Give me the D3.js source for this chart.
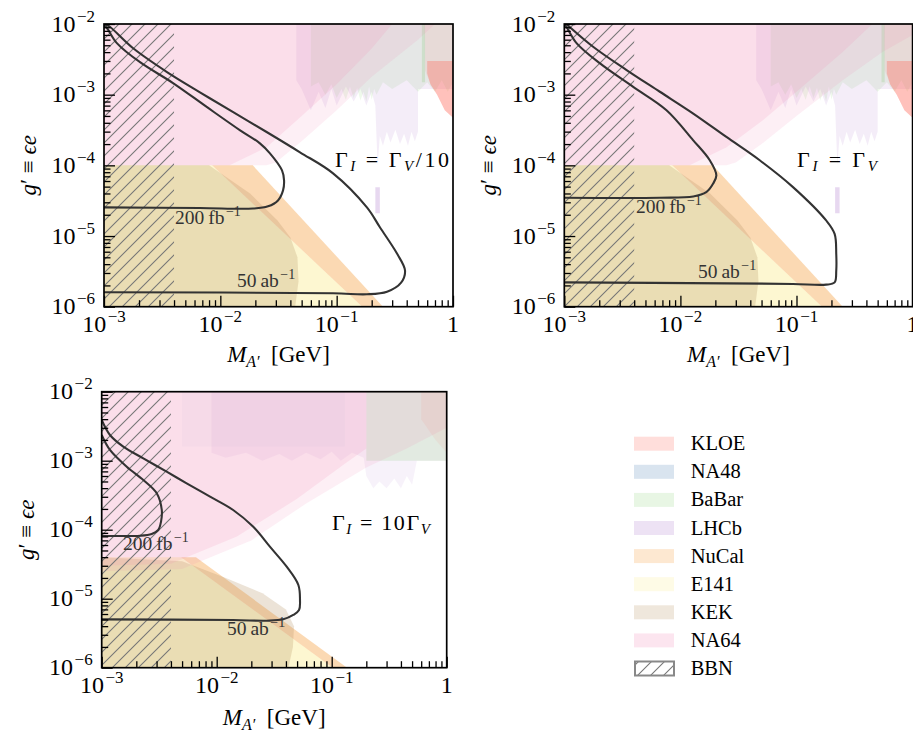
<!DOCTYPE html>
<html><head><meta charset="utf-8">
<script src="https://cdn.jsdelivr.net/npm/d3@7"></script>
<style>
body{margin:0;background:#fff}
svg{display:block}
text{font-family:"Liberation Serif","DejaVu Serif",serif;fill:#000}
</style></head>
<body><svg id="chart" width="913" height="732"></svg>
<script>
// ---------------- DATA ----------------
const massDomain = [1e-3, 1];
const couplingDomain = [1e-6, 1e-2];
const xMajorTicks = [1e-3, 1e-2, 1e-1, 1];
const yMajorTicks = [1e-6, 1e-5, 1e-4, 1e-3, 1e-2];
const xTickLabels = [["10","−3"],["10","−2"],["10","−1"],["1",""]];
const yTickLabels = [["10","−6"],["10","−5"],["10","−4"],["10","−3"],["10","−2"]];
const bbnMassMax = 4e-3;
const legendNames = ["KLOE","NA48","BaBar","LHCb","NuCal","E141","KEK","NA64","BBN"];
const expColors = {KLOE:"#ff6b5b",NA48:"#5082b4",BaBar:"#96d782",LHCb:"#af7dcd",NuCal:"#f5962d",E141:"#faeb8c",KEK:"#b4915f",NA64:"#f087b4"};

// sensitivity contours [mass GeV, g']
const lumi200_p1 = [[1e-3,9.68e-3],[1.06e-3,8.77e-3],[1.29e-3,5.37e-3],[2.04e-3,2.88e-3],[3.92e-3,1.46e-3],[7.69e-3,6.65e-4],[1.48e-2,3.13e-4],[2.19e-2,2.05e-4],[2.67e-2,1.48e-4],[3.39e-2,8.49e-5],[3.53e-2,6.12e-5],[3.46e-2,4.42e-5],[3.13e-2,3.19e-5],[2.57e-2,2.63e-5],[1.91e-2,2.45e-5],[6.68e-3,2.49e-5],[1e-3,2.54e-5]];
const lumi50_p1 = [[1.04e-3,9.84e-3],[1.13e-3,9.06e-3],[1.77e-3,4.57e-3],[3.48e-3,2.09e-3],[6.68e-3,1.08e-3],[1.29e-2,5.65e-4],[2.52e-2,2.94e-4],[4.84e-2,1.53e-4],[9.31e-2,7.71e-5],[0.182,2.54e-5],[0.236,1.32e-5],[0.330,5.65e-6],[0.387,3.24e-6],[0.358,2.19e-6],[0.271,1.63e-6],[0.182,1.50e-6],[0.0933,1.55e-6],[1e-3,1.60e-6]];
const lumi200_p2 = [[1e-3,9.8e-3],[1.04e-3,9.16e-3],[1.28e-3,5.32e-3],[2.03e-3,2.77e-3],[3.92e-3,1.29e-3],[7.59e-3,6.03e-4],[1.29e-2,2.26e-4],[1.79e-2,1.18e-4],[2.04e-2,7.21e-5],[1.91e-2,5.50e-5],[1.67e-2,4.18e-5],[1.29e-2,3.63e-5],[6.65e-3,3.48e-5],[1e-3,3.48e-5]];
const lumi50_p2 = [[1.04e-3,1e-2],[1.77e-3,4.76e-3],[3.44e-3,2.23e-3],[6.65e-3,1.10e-3],[1.29e-2,5.41e-4],[2.49e-2,2.52e-4],[4.82e-2,1.18e-4],[9.33e-2,4.92e-5],[0.180,1.66e-5],[0.213,1.07e-5],[0.220,5.58e-6],[0.220,3.24e-6],[0.213,2.21e-6],[0.180,2.05e-6],[0.0933,2.10e-6],[0.0249,2.14e-6],[1e-3,2.21e-6]];
const lumi200_p3 = [[1e-3,2.36e-3],[1.18e-3,1.43e-3],[1.65e-3,8.18e-4],[2.30e-3,5.25e-4],[3.01e-3,3.37e-4],[3.33e-3,1.93e-4],[3.28e-3,1.31e-4],[3.10e-3,9.91e-5],[2.72e-3,8.67e-5],[2.15e-3,8.18e-5],[1e-3,8.18e-5]];
const lumi50_p3 = [[1e-3,3.89e-3],[1.18e-3,2.36e-3],[1.54e-3,1.60e-3],[2.30e-3,1.08e-3],[3.67e-3,6.93e-4],[5.48e-3,4.70e-4],[8.75e-3,3.01e-4],[1.39e-2,1.93e-4],[2.08e-2,1.10e-4],[2.90e-2,5.68e-5],[4.06e-2,2.91e-5],[5.13e-2,1.58e-5],[5.30e-2,9.57e-6],[5.20e-2,6.85e-6],[4.63e-2,5.81e-6],[3.79e-2,5.02e-6],[2.72e-2,4.80e-6],[1.39e-2,4.91e-6],[1e-3,5.02e-6]];

// excluded regions (panels 1 and 2)
const na64A_p1 = [[1e-3,1e-2],[0.3,1e-2],[0.2,4.5e-3],[0.1,1.4e-3],[0.05,5e-4],[0.025,1.8e-4],[0.012,1e-4],[1e-3,1e-4]];
const na64B_p1 = [[1e-3,1e-2],[0.7,1e-2],[0.5,6e-3],[0.2,1.8e-3],[0.1,6e-4],[0.05,2.2e-4],[0.03,1.1e-4],[0.025,1e-4],[1e-3,1e-4]];
const na64A_p2 = [[1e-3,1e-2],[0.45,1e-2],[0.25,4e-3],[0.1,1.1e-3],[0.05,4.2e-4],[0.025,1.8e-4],[0.012,1e-4],[1e-3,1e-4]];
const na64B_p2 = [[1e-3,1e-2],[1,1e-2],[1,7e-3],[0.55,4e-3],[0.25,1.6e-3],[0.1,5e-4],[0.05,2e-4],[0.03,1.1e-4],[0.025,1e-4],[1e-3,1e-4]];
const babar_p12 = [[0.06,1e-2],[1,1e-2],[1,1.5e-3],[0.9,1.1e-3],[0.8,1.6e-3],[0.7,1.1e-3],[0.6,1.5e-3],[0.5,1.1e-3],[0.4,1.6e-3],[0.3,1.2e-3],[0.25,1.5e-3],[0.22,1.0e-3],[0.21,1.2e-3],[0.2,8.5e-4],[0.19,1.3e-3],[0.18,8e-4],[0.17,1.1e-3],[0.16,8.3e-4],[0.15,1.25e-3],[0.14,9e-4],[0.13,1.3e-3],[0.12,8.5e-4],[0.11,1.2e-3],[0.1,9e-4],[0.09,1.4e-3],[0.08,1.0e-3],[0.07,1.5e-3],[0.06,1.3e-3]];
const babarStripes_p12 = [[0.54,1e-2],[0.575,1e-2],[0.575,1.5e-3],[0.54,1.5e-3]];
const lhcb_p12 = [[0.045,1e-2],[1,1e-2],[1,1.2e-3],[0.5,1.2e-3],[0.5,3e-4],[0.47,2.2e-4],[0.44,3e-4],[0.41,1.9e-4],[0.38,2.8e-4],[0.35,2e-4],[0.32,3.2e-4],[0.29,2.1e-4],[0.27,3e-4],[0.25,1.9e-4],[0.235,2.6e-4],[0.225,1.0e-4],[0.22,2.5e-4],[0.215,7e-4],[0.2,1.1e-3],[0.18,7e-4],[0.16,1.2e-3],[0.14,8e-4],[0.12,1.3e-3],[0.1,7e-4],[0.09,1.2e-3],[0.08,6.5e-4],[0.07,1.1e-3],[0.06,6e-4],[0.05,1.2e-3],[0.045,1.6e-3]];
const lhcbDisp_p12 = [[0.215,4.9e-5],[0.235,4.9e-5],[0.235,2.1e-5],[0.215,2.1e-5]];
const kloe_p12 = [[0.57,1e-2],[1,1e-2],[1,4.7e-4],[0.85,6e-4],[0.73,1e-3],[0.64,1.4e-3],[0.575,2.2e-3]];
const kloeCore_p12 = [[0.6,3e-3],[1,3e-3],[1,4.7e-4],[0.85,6e-4],[0.73,1e-3],[0.64,1.4e-3],[0.6,2e-3]];
const nucal_p12 = [[8.5e-3,1e-4],[0.019,1e-4],[0.25,1e-6],[0.166,1e-6]];
const e141_p12 = [[1e-3,1e-4],[8.5e-3,1e-4],[0.166,1e-6],[1e-3,1e-6]];
const kek_p12 = [[1e-3,1e-4],[8e-3,1e-4],[0.018,4e-5],[0.031,1.66e-5],[0.04,9.5e-6],[0.046,5e-6],[0.047,2.3e-6],[0.044,1e-6],[1e-3,1e-6]];

// excluded regions, panel with Gamma_I = 10 Gamma_V
const na64A_p3 = [[1e-3,1e-2],[0.2,1e-2],[0.2,1.5e-3],[0.13,9e-4],[0.05,2.8e-4],[0.015,8e-5],[4e-3,3.2e-5],[1e-3,3e-5]];
const na64B_p3 = [[1e-3,1e-2],[1,1e-2],[1,3e-3],[0.45,1.5e-3],[0.2,8e-4],[0.06,2.4e-4],[0.02,7e-5],[5e-3,2.7e-5],[1e-3,2.5e-5]];
const na48_p3 = [[5e-3,1e-2],[0.13,1e-2],[0.13,1.6e-3],[5e-3,1.6e-3]];
const lhcb_p3 = [[9e-3,1e-2],[1,1e-2],[1,1e-3],[0.55,1e-3],[0.5,4.5e-4],[0.45,6e-4],[0.4,4e-4],[0.35,5.5e-4],[0.3,4e-4],[0.26,5e-4],[0.23,4e-4],[0.2,6e-4],[0.19,1.1e-3],[0.15,1.3e-3],[0.12,1.0e-3],[0.1,1.35e-3],[0.08,1.05e-3],[0.06,1.3e-3],[0.045,1.0e-3],[0.035,1.25e-3],[0.025,1.0e-3],[0.018,1.3e-3],[0.012,1.1e-3],[9e-3,1.3e-3]];
const babar_p3 = [[0.2,1e-2],[1,1e-2],[1,1e-3],[0.2,1e-3]];
const kloe_p3 = [[0.6,1e-2],[1,1e-2],[1,1.3e-3],[0.8,2e-3],[0.6,4e-3]];
const nucal_p3 = [[4.9e-3,4e-5],[6.6e-3,4e-5],[0.136,1e-6],[0.102,1e-6]];
const e141_p3 = [[1e-3,4e-5],[4.9e-3,4e-5],[0.102,1e-6],[1e-3,1e-6]];
const kek_p3 = [[1e-3,4e-5],[5e-3,3.5e-5],[0.012,2e-5],[0.025,1.2e-5],[0.04,7e-6],[0.047,4e-6],[0.046,2e-6],[0.042,1e-6],[1e-3,1e-6]];

// ---------------- LAYOUT / STYLE ----------------
const svg = d3.select("#chart");
const defs = svg.append("defs");
const hatch = defs.append("pattern").attr("id","hatch").attr("patternUnits","userSpaceOnUse")
  .attr("width",13).attr("height",13);
hatch.append("path").attr("d","M-2,2 L2,-2 M0,13 L13,0 M11,15 L15,11")
  .attr("stroke","#777").attr("stroke-width",1.1);

function regionsFor(i){
  if(i<2) return [
    {e:"E141",p:e141_p12,o:0.4},{e:"NuCal",p:nucal_p12,o:0.36},{e:"KEK",p:kek_p12,o:0.25},
    {e:"BaBar",p:babar_p12,o:0.16},{e:"BaBar",p:babarStripes_p12,o:0.3},
    {e:"LHCb",p:lhcb_p12,o:0.14},{e:"LHCb",p:lhcbDisp_p12,o:0.3},
    {e:"NA64",p:i===0?na64B_p1:na64B_p2,o:0.13},{e:"NA64",p:i===0?na64A_p1:na64A_p2,o:0.16},
    {e:"KLOE",p:kloe_p12,o:0.1},{e:"KLOE",p:kloeCore_p12,o:0.35}];
  return [
    {e:"E141",p:e141_p3,o:0.4},{e:"NuCal",p:nucal_p3,o:0.36},{e:"KEK",p:kek_p3,o:0.25},
    {e:"NA48",p:na48_p3,o:0.04},{e:"BaBar",p:babar_p3,o:0.22},{e:"LHCb",p:lhcb_p3,o:0.1},
    {e:"NA64",p:na64B_p3,o:0.13},{e:"NA64",p:na64A_p3,o:0.16},{e:"KLOE",p:kloe_p3,o:0.08}];
}

const panels = [
  {left:104,right:453,top:24,bottom:306.7,inner:lumi200_p1,outer:lumi50_p1,
   title:{x:335,y:166.5,main:"/10",pre:"",w:114},l200:{x:175,y:224},l50:{x:237,y:287},xlab:361.7},
  {left:564.3,right:912.6,top:24,bottom:306.7,inner:lumi200_p2,outer:lumi50_p2,
   title:{x:797,y:166.7,main:"",pre:"",w:80},l200:{x:636,y:213},l50:{x:698,y:278},xlab:361.7},
  {left:101.7,right:446.7,top:391.7,bottom:667.7,inner:lumi200_p3,outer:lumi50_p3,
   title:{x:332,y:530,main:"",pre:"10",w:98},l200:{x:123,y:550},l50:{x:227,y:635},xlab:725}
];

panels.forEach((P,i)=>{
  const x = d3.scaleLog().domain(massDomain).range([P.left,P.right]);
  const y = d3.scaleLog().domain(couplingDomain).range([P.bottom,P.top]);
  const g = svg.append("g");
  const cid = "clip"+i;
  defs.append("clipPath").attr("id",cid).append("rect")
    .attr("x",P.left).attr("y",P.top).attr("width",P.right-P.left).attr("height",P.bottom-P.top);
  const plot = g.append("g").attr("clip-path",`url(#${cid})`);
  const area = d3.line().x(d=>x(d[0])).y(d=>y(d[1])).curve(d3.curveLinearClosed);
  regionsFor(i).forEach(r=>{
    plot.append("path").attr("d",area(r.p)).attr("fill",expColors[r.e]).attr("fill-opacity",r.o).attr("stroke","none");
  });
  // BBN hatch
  plot.append("rect").attr("x",x(massDomain[0])).attr("y",P.top)
    .attr("width",x(bbnMassMax)-x(massDomain[0])).attr("height",P.bottom-P.top).attr("fill","url(#hatch)");
  // contours
  const cl = d3.line().x(d=>x(d[0])).y(d=>y(d[1])).curve(d3.curveCatmullRom.alpha(0.5));
  [P.inner,P.outer].forEach(c=>{
    plot.append("path").attr("d",cl(c)).attr("fill","none").attr("stroke","#333").attr("stroke-width",2.1);
  });
  // axes ticks (inward)
  const minorX = x.ticks().filter(v=>!xMajorTicks.some(m=>Math.abs(m-v)/m<1e-6));
  const minorY = y.ticks().filter(v=>!yMajorTicks.some(m=>Math.abs(m-v)/m<1e-6));
  const ax = [
    d3.axisBottom(x).tickValues(xMajorTicks).tickSizeInner(-11).tickSizeOuter(0).tickFormat(""),
    d3.axisBottom(x).tickValues(minorX).tickSizeInner(-6.5).tickSizeOuter(0).tickFormat("")];
  ax.forEach(a=>{ const s=g.append("g").attr("transform",`translate(0,${P.bottom})`).call(a); s.select(".domain").remove(); s.selectAll("line").attr("stroke","#000").attr("stroke-width",1.3);});
  const ay = [
    d3.axisLeft(y).tickValues(yMajorTicks).tickSizeInner(-11).tickSizeOuter(0).tickFormat(""),
    d3.axisLeft(y).tickValues(minorY).tickSizeInner(-6.5).tickSizeOuter(0).tickFormat("")];
  ay.forEach(a=>{ const s=g.append("g").attr("transform",`translate(${P.left},0)`).call(a); s.select(".domain").remove(); s.selectAll("line").attr("stroke","#000").attr("stroke-width",1.3);});
  // frame
  g.append("rect").attr("x",P.left).attr("y",P.top).attr("width",P.right-P.left).attr("height",P.bottom-P.top)
    .attr("fill","none").attr("stroke","#000").attr("stroke-width",1.7);
  // tick labels
  xMajorTicks.forEach((v,k)=>{
    const t = g.append("text").attr("x",x(v)).attr("y",P.bottom+25).attr("text-anchor","middle").attr("font-size",24);
    t.append("tspan").text(xTickLabels[k][0]);
    if(xTickLabels[k][1]) t.append("tspan").attr("dy",-10).attr("dx",1.5).attr("font-size",17).text(xTickLabels[k][1]);
  });
  yMajorTicks.forEach((v,k)=>{
    const t = g.append("text").attr("x",P.left-9).attr("y",y(v)+7.5).attr("text-anchor","end").attr("font-size",24);
    t.append("tspan").text(yTickLabels[k][0]);
    t.append("tspan").attr("dy",-10).attr("dx",1.5).attr("font-size",17).text(yTickLabels[k][1]);
  });
  // axis labels
  const cx=(P.left+P.right)/2;
  const xl = g.append("text").attr("x",cx).attr("y",P.xlab).attr("text-anchor","middle").attr("font-size",23);
  xl.append("tspan").attr("font-style","italic").text("M");
  xl.append("tspan").attr("font-style","italic").attr("font-size",16).attr("dy",5).text("A′");
  xl.append("tspan").attr("dy",-5).text("\u2002[GeV]");
  const cy=(P.top+P.bottom)/2;
  const yl = g.append("text").attr("transform",`translate(${P.left-68},${cy}) rotate(-90)`).attr("text-anchor","middle").attr("font-size",23);
  yl.append("tspan").attr("font-style","italic").text("g");
  yl.append("tspan").text("′ ≡ ");
  yl.append("tspan").attr("font-style","italic").text("ϵe");
  // title
  const tt = g.append("text").attr("x",P.title.x).attr("y",P.title.y).attr("font-size",22)
    .attr("textLength",P.title.w).attr("lengthAdjust","spacing");
  tt.append("tspan").text("Γ");
  tt.append("tspan").attr("font-style","italic").attr("font-size",15).attr("dy",4).text("I");
  tt.append("tspan").attr("dy",-4).text(" = "+P.title.pre+"Γ");
  tt.append("tspan").attr("font-style","italic").attr("font-size",15).attr("dy",4).text("V");
  tt.append("tspan").attr("dy",-4).text(P.title.main);
  // contour labels
  [[P.l200,"200","fb"],[P.l50,"50","ab"]].forEach(([pos,n,u])=>{
    const t = g.append("text").attr("x",pos.x).attr("y",pos.y).attr("font-size",19.5).style("fill","#333");
    t.append("tspan").text(n+"\u2009"+u);
    t.append("tspan").attr("dy",-8).attr("dx",1.5).attr("font-size",14).text("−1");
  });
});

// legend
const legendX = 634, legendY0 = 443.7, legendStep = 28.1;
legendNames.forEach((n,i)=>{
  const cy = legendY0 + i*legendStep;
  if(n==="BBN"){
    svg.append("rect").attr("x",legendX+1).attr("y",cy-7).attr("width",39).attr("height",14)
      .attr("fill","url(#hatch)").attr("stroke","#888").attr("stroke-width",2);
  } else {
    svg.append("rect").attr("x",legendX).attr("y",cy-7).attr("width",40).attr("height",14)
      .attr("fill",expColors[n]).attr("fill-opacity",0.22);
  }
  svg.append("text").attr("x",690.7).attr("y",cy+6.5).attr("font-size",20.5).text(n);
});
</script></body></html>
